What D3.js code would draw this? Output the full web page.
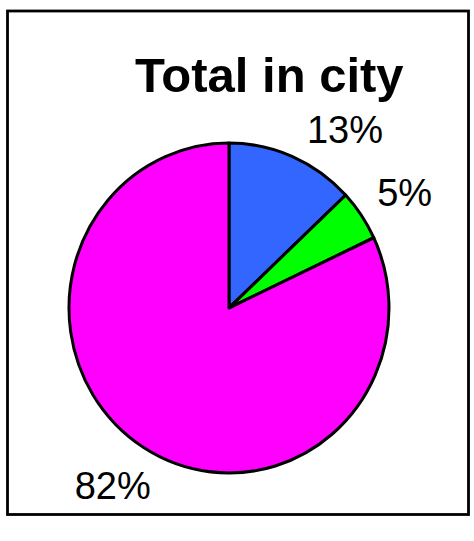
<!DOCTYPE html>
<html>
<head>
    <meta charset="utf-8">
    <title>Total in city</title>
    <style type="text/css">
        body { margin: 0; background: #fff; }
        .pie-svg text { font-family: "Liberation Sans", Arial, sans-serif; fill: #000; }
        .title { font-weight: bold; font-size: 49px; }
        .label { font-size: 38px; }
    </style>
</head>
<body>
<script src="https://cdn.jsdelivr.net/npm/d3@7"></script>
<script type="text/javascript">
    /*=========DATA=========*/
    var categories = ['A', 'B', 'C'];
    var values = [13, 5, 82];
    var labels = ['13%', '5%', '82%'];
    var colors = ['#3366ff', '#00ff00', '#ff00ff'];
    // label angle shift (degrees) to keep labels clear of the title
    var labelShift = [10.5, 1.8, 1.6];

    /*=====SIZE SVG======*/
    var svgWidth = 474;
    var svgHeight = 541;
    var cx = 229, cy = 308;
    var radius = 160;
    var yStretch = 165 / 160;

    var svg = d3.select('body').append('svg').attr('class', 'pie-svg')
        .attr('width', svgWidth).attr('height', svgHeight);

    // 外框
    svg.append('rect')
        .attr('x', 7.5).attr('y', 11)
        .attr('width', 461).attr('height', 503.5)
        .attr('fill', 'none').attr('stroke', '#000').attr('stroke-width', 2.8);

    // 标题
    svg.append('text').attr('class', 'title')
        .attr('x', 135).attr('y', 92)
        .text('Total in city');

    var pie = d3.pie().sort(null).value(d => d);
    var arcs = pie(values);
    var arc = d3.arc().innerRadius(0).outerRadius(radius);

    var pieG = svg.append('g')
        .attr('transform', 'translate(' + cx + ',' + cy + ') scale(1,' + yStretch + ')');

    pieG.selectAll('.slice')
        .data(arcs)
        .enter()
        .append('path')
        .attr('class', 'slice')
        .attr('d', arc)
        .attr('fill', (d, i) => colors[i])
        .attr('stroke', '#000')
        .attr('stroke-width', 3)
        .attr('stroke-linejoin', 'round');

    // 数据标注
    var labelR = 208;
    var labelAngle = (d, i) => (d.startAngle + d.endAngle) / 2 + labelShift[i] * Math.PI / 180;
    svg.selectAll('.label')
        .data(arcs)
        .enter()
        .append('text')
        .attr('class', 'label')
        .attr('text-anchor', 'middle')
        .attr('x', (d, i) => cx + labelR * Math.sin(labelAngle(d, i)))
        .attr('y', (d, i) => cy - labelR * yStretch * Math.cos(labelAngle(d, i)) + 13)
        .text((d, i) => labels[i]);
</script>
</body>
</html>
